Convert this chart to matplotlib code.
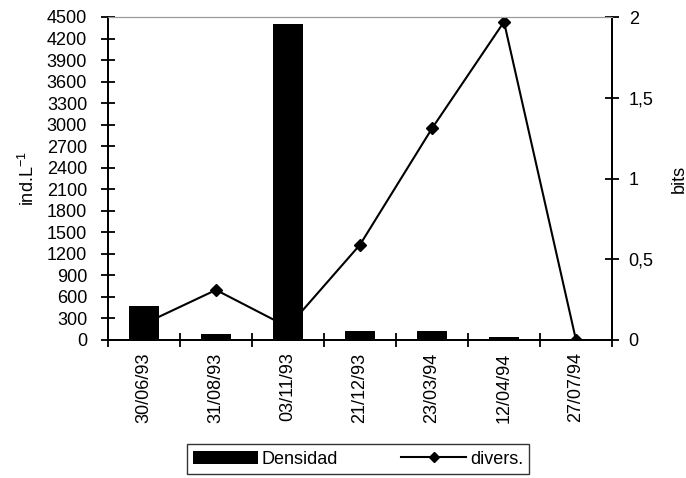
import matplotlib.pyplot as plt
import numpy as np

plt.rcParams['font.family'] = ['Liberation Sans', 'DejaVu Sans']
plt.rcParams['mathtext.fontset'] = 'custom'
plt.rcParams['mathtext.rm'] = 'Liberation Sans'

fechas = ['30/06/93', '31/08/93', '03/11/93', '21/12/93', '23/03/94', '12/04/94', '27/07/94']
densidad = [480, 80, 4400, 130, 130, 40, 0]
divers = [0.1, 0.31, 0.08, 0.59, 1.31, 1.97, 0.0]

fs = 13

fig = plt.figure(figsize=(6.86, 4.78), dpi=100)
ax = fig.add_axes([108/686, 1 - 340/478, 504/686, 323/478])
ax2 = ax.twinx()

x = np.arange(len(fechas))

# line behind the bars
ax2.plot(x, divers, color='black', linewidth=1.5, marker='D', markersize=6, label='divers.', zorder=1)
ax2.set_ylim(0, 2)
ax2.set_yticks([0, 0.5, 1, 1.5, 2])
ax2.set_yticklabels(['0', '0,5', '1', '1,5', '2'])
ax2.set_ylabel('bits', fontsize=fs, labelpad=12)

ax.set_zorder(ax2.get_zorder() + 1)
ax.patch.set_visible(False)
ax.bar(x, densidad, width=0.42, color='black', label='Densidad')
ax.set_xlim(-0.5, len(fechas) - 0.5)
ax.set_ylim(0, 4500)
ax.set_yticks(np.arange(0, 4501, 300))
ax.set_ylabel('ind.L$^{\\mathregular{-1}}$', fontsize=fs, labelpad=6)

ax.set_xticks(np.arange(-0.5, len(fechas), 1))
ax.set_xticklabels([])
ax.set_xticks(x, minor=True)
ax.set_xticklabels(fechas, minor=True, rotation=90, fontsize=fs)
ax.tick_params(axis='x', which='minor', length=0, pad=9)
ax.tick_params(axis='x', which='major', direction='inout', length=10, width=1.3)
ax.tick_params(axis='y', direction='inout', length=10, width=1.3, labelsize=fs, pad=10)
ax2.tick_params(axis='y', direction='inout', length=10, width=1.3, labelsize=fs, pad=7)

for a in (ax, ax2):
    a.spines['top'].set_color('#999999')
    a.spines['left'].set_linewidth(1.3)
    a.spines['right'].set_linewidth(1.3)
    a.spines['bottom'].set_linewidth(1.3)

h1, l1 = ax.get_legend_handles_labels()
h2, l2 = ax2.get_legend_handles_labels()
leg = fig.legend(h1 + h2, l1 + l2, loc='center', bbox_to_anchor=(358/686, 1 - 459/478),
                 ncol=2, fontsize=fs, frameon=True, fancybox=False, edgecolor='black',
                 handlelength=3.6, handletextpad=0.2, columnspacing=3.5, borderpad=0.35,
                 markerscale=0.8)
leg.get_frame().set_linewidth(1)

fig.savefig('out.png', dpi=100)
